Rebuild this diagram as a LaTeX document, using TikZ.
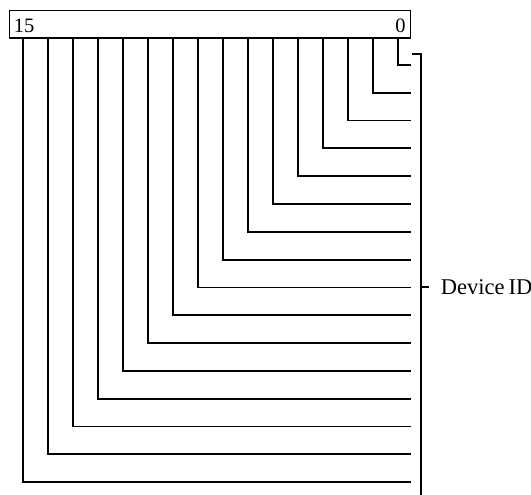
\documentclass[tikz,border=0pt]{standalone}
\usepackage{fontspec}
\setmainfont{Liberation Serif}
\usetikzlibrary{positioning}

\begin{document}
\begin{tikzpicture}[x=1pt, y=-1pt, line width=1.8pt, auto]
	\useasboundingbox (0,0) rectangle (531,495);
	\node[draw, line width=1.4pt, inner sep=0pt, minimum width=401pt, minimum height=27.5pt, anchor=north west] (reg) at (9,10) {};
	\node[anchor=base west, inner sep=0pt, font=\fontsize{20.5}{20}\selectfont] (msb) at (13,32.7) {15};
	\node[anchor=base east, inner sep=0pt, font=\fontsize{20.5}{20}\selectfont] (lsb) at (406.5,32.7) {0};

	\foreach \i in {0,...,15} {
		\coordinate (b\i) at ({398.3-25.04*\i},37.5);
		\coordinate (e\i) at (411,{65+27.8*\i});
		\draw (b\i) |- (e\i);
	}

	\coordinate (top) at (411.5,54);
	\coordinate (bot) at (421,495);
	\coordinate (mid) at (421,287);
	\coordinate (tick) at (429,287);
	\node[right=11pt of tick, inner sep=0pt, font=\fontsize{22.5}{22}\selectfont] (dev) {Device\hspace{0.18em}ID};

	\path [-]
		(top) edge[to path={-| (\tikztotarget)}] (bot)
		(mid) edge (tick)
	;
\end{tikzpicture}
\end{document}
